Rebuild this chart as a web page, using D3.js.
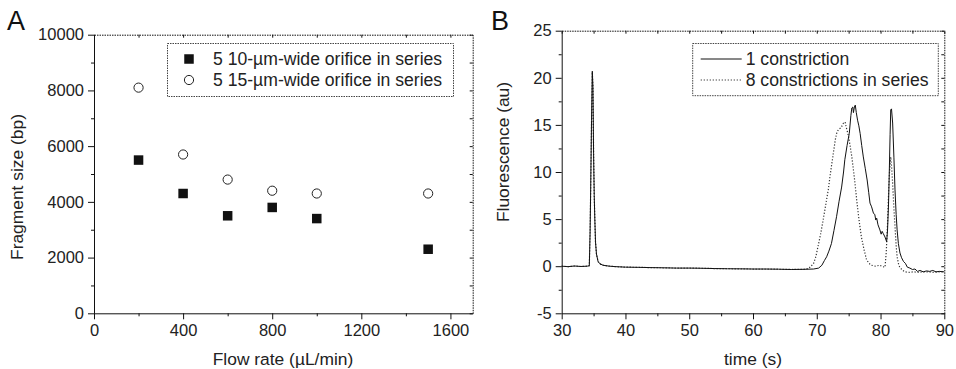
<!DOCTYPE html>
<html>
<head>
<meta charset="utf-8">
<script src="https://cdn.jsdelivr.net/npm/d3@7"></script>
<style>
  body { margin: 0; background: #fff; }
  svg { font-family: "Liberation Sans", Arial, sans-serif; }
  .tick text { font-size: 16.5px; fill: #222; }
  .domain, .tick line { stroke: #111; }
</style>
</head>
<body>
<div id="container"></div>
<script>
// Panel A: fragment size vs flow rate
const flowRates = [200, 400, 600, 800, 1000, 1500];
const size10um = [5500, 4300, 3500, 3800, 3400, 2300];
const size15um = [8100, 5700, 4800, 4400, 4300, 4300];
const legendA = ['5 10-\u00b5m-wide orifice in series', '5 15-\u00b5m-wide orifice in series'];

// Panel B: fluorescence traces, [time (s), value (au)]
const oneConstriction = [
  [30, 0], [31, -0.05], [32, 0.02], [33, -0.03], [34, 0], [34.33, 0.05], [34.45, 3.5],
  [34.55, 8.4], [34.68, 15.5], [34.8, 20.7], [34.9, 19], [35.0, 12], [35.1, 7.5],
  [35.2, 4.9], [35.3, 2.6], [35.45, 1.3], [35.7, 0.5], [36.0, 0.25], [36.5, 0.1],
  [37.5, 0], [38.5, -0.05], [40, -0.1], [42, -0.12], [44, -0.15], [46, -0.17],
  [48, -0.2], [50, -0.2], [52, -0.22], [54, -0.25], [56, -0.27], [58, -0.28],
  [60, -0.3], [62, -0.3], [64, -0.32], [66, -0.35], [68, -0.33], [69.5, -0.3],
  [70.3, -0.2], [70.8, 0.1], [71.2, 0.6], [71.55, 1.0], [71.9, 1.6], [72.3, 2.4],
  [72.7, 3.8], [73.1, 5.25], [73.5, 6.9], [73.9, 8.4], [74.2, 10.0], [74.4, 11.3],
  [74.75, 12.8], [75.1, 14.1], [75.35, 16.0], [75.5, 16.8], [75.65, 16.9], [75.75, 16.3],
  [75.9, 16.9], [76.04, 17.1], [76.2, 16.3], [76.4, 15.5], [76.6, 14.9], [76.8, 14.1],
  [77.05, 12.8], [77.3, 11.6], [77.6, 10.4], [77.9, 9.15], [78.15, 7.8], [78.35, 6.7],
  [78.6, 6.3], [78.9, 5.6], [79.1, 5.5], [79.25, 4.9], [79.4, 5.1], [79.6, 4.4],
  [79.9, 3.85], [80.1, 3.4], [80.25, 3.7], [80.4, 3.5], [80.7, 3.1], [80.96, 2.6],
  [81.1, 3.85], [81.25, 6.5], [81.37, 9.9], [81.5, 14.0], [81.6, 16.6], [81.72, 16.7],
  [81.9, 15.2], [82.1, 11.5], [82.27, 8.1], [82.45, 5.5], [82.6, 3.85], [82.8, 2.4],
  [83.05, 1.4], [83.3, 0.9], [83.6, 0.5], [83.9, 0.3], [84.2, -0.1], [84.6, -0.2],
  [85.0, -0.35], [85.4, -0.3], [85.8, -0.55], [86.2, -0.45], [86.7, -0.6], [87.2, -0.5],
  [87.7, -0.55], [88.2, -0.45], [88.7, -0.6], [89.2, -0.55], [90, -0.6]
];
const eightConstrictions = [
  [30, 0], [31, -0.05], [32, 0.02], [33, -0.03], [34, 0], [34.33, 0.05], [34.45, 3.5],
  [34.55, 8.4], [34.68, 15.5], [34.8, 20.6], [34.9, 19], [35.0, 12], [35.1, 7.5],
  [35.2, 4.9], [35.3, 2.6], [35.45, 1.3], [35.7, 0.5], [36.0, 0.25], [36.5, 0.1],
  [37.5, 0], [38.5, -0.05], [40, -0.1], [42, -0.12], [44, -0.15], [46, -0.17],
  [48, -0.2], [50, -0.2], [52, -0.22], [54, -0.25], [56, -0.27], [58, -0.28],
  [60, -0.3], [62, -0.3], [64, -0.32], [66, -0.35], [68, -0.33], [68.7, -0.25],
  [69.1, 0], [69.5, 0.3], [69.85, 1.0], [70.2, 2.1], [70.6, 3.4], [71.0, 4.9],
  [71.4, 6.5], [71.8, 8.1], [72.05, 9.4], [72.3, 10.6], [72.6, 12.0], [72.9, 13.4],
  [73.15, 14.2], [73.4, 14.5], [73.8, 14.7], [74.2, 15.2], [74.45, 15.3], [74.6, 14.8],
  [74.8, 14.3], [75.0, 13.7], [75.25, 12.7], [75.5, 11.6], [75.75, 10.2], [76.0, 8.8],
  [76.25, 7.1], [76.5, 5.6], [76.75, 4.3], [77.0, 3.1], [77.4, 1.8], [77.8, 0.7],
  [78.2, 0.3], [78.6, 0.1], [79.2, 0.0], [79.9, 0.1], [80.3, -0.05], [80.7, -0.1],
  [80.9, 1.5], [81.1, 4.55], [81.25, 7.5], [81.4, 9.9], [81.6, 11.6], [81.75, 10.5],
  [81.9, 8.8], [82.1, 6.0], [82.3, 3.85], [82.45, 2.2], [82.6, 1.0], [82.8, 0.3],
  [83.0, -0.1], [83.4, -0.4], [83.8, -0.6], [84.5, -0.65], [85.2, -0.6], [86.0, -0.65],
  [86.7, -0.6], [87.5, -0.6], [88.3, -0.65], [89.2, -0.6], [90, -0.6]
];
const legendB = ['1 constriction', '8 constrictions in series'];

const width = 956, height = 369;
const svg = d3.select('#container').append('svg')
  .attr('width', width)
  .attr('height', height);

// plain number labels, hyphen for negatives like the original
const plain = d => String(d);

// Frame with outward ticks on bottom/left, dotted mirror on top/right
function frame(g, x, y, xMajor, xMinor, yMajor, yMinor) {
  const [x0, x1] = x.range();
  const [y0, y1] = y.range();

  g.append('g').attr('transform', `translate(0,${y0})`)
    .call(d3.axisBottom(x).tickValues(xMinor).tickSize(3).tickFormat(''))
    .call(a => a.select('.domain').remove());
  g.append('g').attr('transform', `translate(0,${y0})`)
    .call(d3.axisBottom(x).tickValues(xMajor).tickSize(6).tickSizeOuter(0).tickPadding(5).tickFormat(plain));
  g.append('g').attr('transform', `translate(${x0},0)`)
    .call(d3.axisLeft(y).tickValues(yMinor).tickSize(3).tickFormat(''))
    .call(a => a.select('.domain').remove());
  g.append('g').attr('transform', `translate(${x0},0)`)
    .call(d3.axisLeft(y).tickValues(yMajor).tickSize(6).tickSizeOuter(0).tickPadding(4).tickFormat(plain));

  // mirror axes
  const top = g.append('g').attr('transform', `translate(0,${y1})`)
    .call(d3.axisBottom(x).tickValues(xMajor.concat(xMinor)).tickSize(3).tickFormat('').tickSizeOuter(0));
  const right = g.append('g').attr('transform', `translate(${x1},0)`)
    .call(d3.axisLeft(y).tickValues(yMajor.concat(yMinor)).tickSize(3).tickFormat('').tickSizeOuter(0));
  top.select('.domain').attr('stroke', '#444').attr('stroke-dasharray', '1.5,1');
  right.select('.domain').attr('stroke', '#444').attr('stroke-dasharray', '1.5,1');
  top.selectAll('.tick line').attr('stroke', '#444');
  right.selectAll('.tick line').attr('stroke', '#444');
}

// ---- Panel A ----
const xA = d3.scaleLinear().domain([0, 1700]).range([94, 472.7]);
const yA = d3.scaleLinear().domain([0, 10000]).range([313.3, 34.7]);
const gA = svg.append('g');
frame(gA, xA, yA,
  [0, 400, 800, 1200, 1600], [200, 600, 1000, 1400],
  [0, 2000, 4000, 6000, 8000, 10000], [1000, 3000, 5000, 7000, 9000]);

gA.selectAll('rect.sq').data(flowRates).join('rect')
  .attr('class', 'sq')
  .attr('x', d => xA(d) - 4.75)
  .attr('y', (d, i) => yA(size10um[i]) - 4.75)
  .attr('width', 9.5).attr('height', 9.5)
  .attr('fill', '#111');
gA.selectAll('circle.ci').data(flowRates).join('circle')
  .attr('class', 'ci')
  .attr('cx', d => xA(d))
  .attr('cy', (d, i) => yA(size15um[i]))
  .attr('r', 4.6)
  .attr('fill', '#fff').attr('stroke', '#222').attr('stroke-width', 1);

// legend A
gA.append('rect').attr('x', 167.5).attr('y', 43.5).attr('width', 286).attr('height', 53)
  .attr('fill', '#fff').attr('stroke', '#444').attr('stroke-dasharray', '1.5,1');
gA.append('rect').attr('x', 189 - 4.75).attr('y', 59 - 4.75).attr('width', 9.5).attr('height', 9.5).attr('fill', '#111');
gA.append('circle').attr('cx', 189).attr('cy', 80).attr('r', 4.6)
  .attr('fill', '#fff').attr('stroke', '#222');
gA.selectAll('text.leg').data(legendA).join('text')
  .attr('class', 'leg')
  .attr('x', 213).attr('y', (d, i) => 59 + i * 21)
  .attr('dy', '0.36em')
  .attr('font-size', 17.6).attr('fill', '#222')
  .text(d => d);

gA.append('text').attr('x', 283).attr('y', 365).attr('text-anchor', 'middle')
  .attr('font-size', 17.4).attr('fill', '#222').text('Flow rate (\u00b5L/min)');
gA.append('text').attr('transform', 'translate(23,187) rotate(-90)').attr('text-anchor', 'middle')
  .attr('font-size', 17.4).attr('fill', '#222').text('Fragment size (bp)');
gA.append('text').attr('x', 7).attr('y', 30).attr('font-size', 27).attr('fill', '#111').text('A');

// ---- Panel B ----
const xB = d3.scaleLinear().domain([30, 90]).range([561.7, 944.3]);
const yB = d3.scaleLinear().domain([-5, 25]).range([313.3, 30.7]);
const gB = svg.append('g');
frame(gB, xB, yB,
  [30, 40, 50, 60, 70, 80, 90], [35, 45, 55, 65, 75, 85],
  [-5, 0, 5, 10, 15, 20, 25], [-2.5, 2.5, 7.5, 12.5, 17.5, 22.5]);

const line = d3.line().x(d => xB(d[0])).y(d => yB(d[1]));
gB.append('path').datum(eightConstrictions).attr('d', line)
  .attr('fill', 'none').attr('stroke', '#333').attr('stroke-width', 1.2)
  .attr('stroke-dasharray', '1.2,1.8');
gB.append('path').datum(oneConstriction).attr('d', line)
  .attr('fill', 'none').attr('stroke', '#111').attr('stroke-width', 1);

// legend B
gB.append('rect').attr('x', 692.7).attr('y', 43.5).attr('width', 245.6).attr('height', 52.2)
  .attr('fill', '#fff').attr('stroke', '#444').attr('stroke-dasharray', '1.5,1');
gB.append('line').attr('x1', 700.7).attr('x2', 741.7).attr('y1', 59).attr('y2', 59)
  .attr('stroke', '#111');
gB.append('line').attr('x1', 700.7).attr('x2', 741.7).attr('y1', 80).attr('y2', 80)
  .attr('stroke', '#333').attr('stroke-width', 1.2).attr('stroke-dasharray', '1.2,1.8');
gB.selectAll('text.leg').data(legendB).join('text')
  .attr('class', 'leg')
  .attr('x', 745.7).attr('y', (d, i) => 59 + i * 21)
  .attr('dy', '0.36em')
  .attr('font-size', 17.6).attr('fill', '#222')
  .text(d => d);

gB.append('text').attr('x', 753).attr('y', 365).attr('text-anchor', 'middle')
  .attr('font-size', 17.4).attr('fill', '#222').text('time (s)');
gB.append('text').attr('transform', 'translate(509,152) rotate(-90)').attr('text-anchor', 'middle')
  .attr('font-size', 17.4).attr('fill', '#222').text('Fluorescence (au)');
gB.append('text').attr('x', 491).attr('y', 30).attr('font-size', 27).attr('fill', '#111').text('B');
</script>
</body>
</html>
